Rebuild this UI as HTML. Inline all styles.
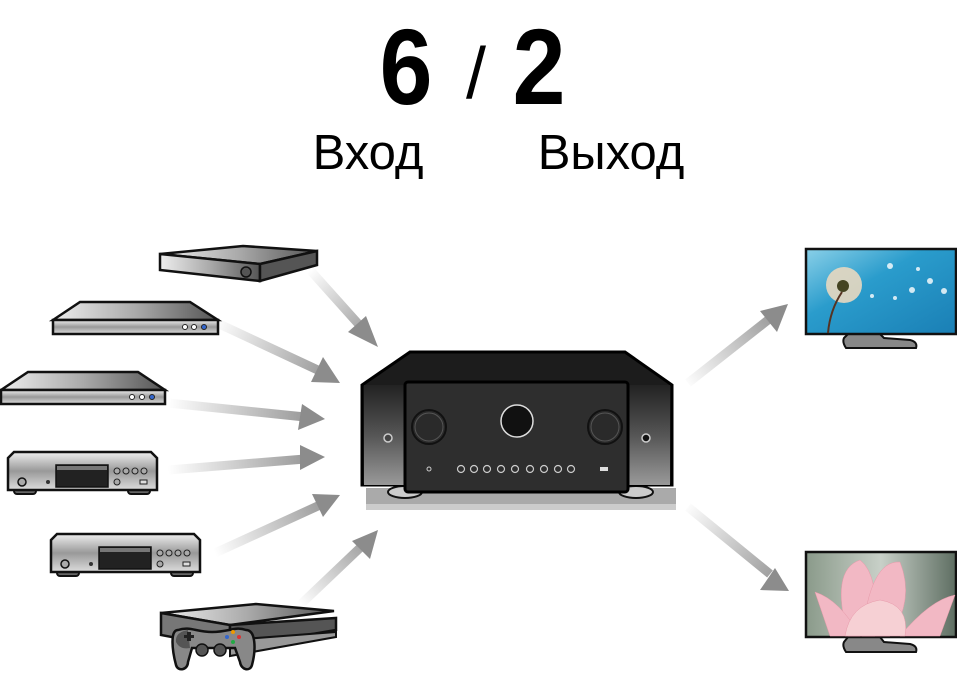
<!DOCTYPE html>
<html><head><meta charset="utf-8"><style>
html,body{margin:0;padding:0;background:#fff;width:957px;height:680px;overflow:hidden}
svg{display:block}
text{font-family:"Liberation Sans",sans-serif}
</style></head><body>
<svg width="957" height="680" viewBox="0 0 957 680" xmlns="http://www.w3.org/2000/svg">
<defs>
<linearGradient id="metal" x1="0" x2="1" y1="0" y2="0"><stop offset="0" stop-color="#eee"/><stop offset="0.5" stop-color="#aaa"/><stop offset="1" stop-color="#555"/></linearGradient>
<linearGradient id="metalv" x1="0" x2="0" y1="0" y2="1"><stop offset="0" stop-color="#eee"/><stop offset="0.5" stop-color="#999"/><stop offset="1" stop-color="#ddd"/></linearGradient>
<linearGradient id="sky" x1="0" x2="1" y1="0" y2="1"><stop offset="0" stop-color="#8ad0e8"/><stop offset="0.4" stop-color="#2a9ccc"/><stop offset="1" stop-color="#1a7fb5"/></linearGradient>
<linearGradient id="lotusbg" x1="0" x2="1"><stop offset="0" stop-color="#8a9a8a"/><stop offset="0.5" stop-color="#c8d0c8"/><stop offset="1" stop-color="#5e6e62"/></linearGradient>
<linearGradient id="side" x1="0" x2="0" y1="0" y2="1"><stop offset="0" stop-color="#222"/><stop offset="0.5" stop-color="#555"/><stop offset="1" stop-color="#999"/></linearGradient>
</defs>

<g transform="translate(406,0) scale(0.88,1)"><text x="0" y="104" font-size="108" font-weight="bold" text-anchor="middle">6</text></g>
<text x="476" y="98" font-size="72" text-anchor="middle">/</text>
<g transform="translate(539,0) scale(0.88,1)"><text x="0" y="104" font-size="108" font-weight="bold" text-anchor="middle">2</text></g>
<text x="368" y="169" font-size="49" text-anchor="middle">Вход</text>
<text x="611" y="169" font-size="49" text-anchor="middle">Выход</text>

<defs>
<linearGradient id="a1" gradientUnits="userSpaceOnUse" x1="310" y1="270" x2="378" y2="345"><stop offset="0" stop-color="#fff"/><stop offset="1" stop-color="#8c8c8c"/></linearGradient>
<linearGradient id="a2" gradientUnits="userSpaceOnUse" x1="215" y1="322" x2="340" y2="380"><stop offset="0" stop-color="#fff"/><stop offset="1" stop-color="#8c8c8c"/></linearGradient>
<linearGradient id="a3" gradientUnits="userSpaceOnUse" x1="168" y1="403" x2="325" y2="418"><stop offset="0" stop-color="#fff"/><stop offset="1" stop-color="#8c8c8c"/></linearGradient>
<linearGradient id="a4" gradientUnits="userSpaceOnUse" x1="168" y1="470" x2="325" y2="457"><stop offset="0" stop-color="#fff"/><stop offset="1" stop-color="#8c8c8c"/></linearGradient>
<linearGradient id="a5" gradientUnits="userSpaceOnUse" x1="215" y1="553" x2="340" y2="495"><stop offset="0" stop-color="#fff"/><stop offset="1" stop-color="#8c8c8c"/></linearGradient>
<linearGradient id="a6" gradientUnits="userSpaceOnUse" x1="300" y1="605" x2="378" y2="530"><stop offset="0" stop-color="#fff"/><stop offset="1" stop-color="#8c8c8c"/></linearGradient>
<linearGradient id="a7" gradientUnits="userSpaceOnUse" x1="685" y1="385" x2="787" y2="305"><stop offset="0" stop-color="#fff"/><stop offset="1" stop-color="#8c8c8c"/></linearGradient>
<linearGradient id="a8" gradientUnits="userSpaceOnUse" x1="685" y1="505" x2="788" y2="590"><stop offset="0" stop-color="#fff"/><stop offset="1" stop-color="#8c8c8c"/></linearGradient>
</defs>
<g stroke-width="9" fill="none">
<line x1="310" y1="270" x2="362" y2="328" stroke="url(#a1)"/>
<line x1="215" y1="322" x2="322" y2="372" stroke="url(#a2)"/>
<line x1="168" y1="403" x2="305" y2="417" stroke="url(#a3)"/>
<line x1="168" y1="470" x2="305" y2="459" stroke="url(#a4)"/>
<line x1="215" y1="553" x2="320" y2="505" stroke="url(#a5)"/>
<line x1="300" y1="605" x2="362" y2="546" stroke="url(#a6)"/>
<line x1="688" y1="383" x2="768" y2="320" stroke="url(#a7)"/>
<line x1="688" y1="507" x2="770" y2="574" stroke="url(#a8)"/>
</g>
<g fill="#8c8c8c">
<polygon points="378,347 348,332 366,316"/>
<polygon points="340,383 311,382 323,357"/>
<polygon points="325,419 298,430 302,404"/>
<polygon points="325,457 300,470 300,445"/>
<polygon points="340,495 323,517 312,494"/>
<polygon points="378,530 370,559 352,541"/>
<polygon points="788,304 777,332 760,311"/>
<polygon points="789,591 760,590 775,568"/>
</g>

<polygon points="160,254 243,246 317,251 260,264" fill="url(#metal)" stroke="#111" stroke-width="2.5"/>
<polygon points="160,254 260,264 260,281 160,270" fill="url(#metal)" stroke="#111" stroke-width="2.5"/>
<polygon points="260,264 317,251 317,265 260,281" fill="#555" stroke="#111" stroke-width="2.5"/>
<circle cx="246" cy="272" r="5" fill="#555" stroke="#111" stroke-width="1.5"/>

<polygon points="53,320 80,302 190,302 218,320" fill="url(#metal)" stroke="#111" stroke-width="2.5"/>
<rect x="53" y="320" width="165" height="14" fill="url(#metalv)" stroke="#111" stroke-width="2.5"/>
<circle cx="185" cy="327" r="2.5" fill="#fff" stroke="#222"/><circle cx="194" cy="327" r="2.5" fill="#fff" stroke="#222"/><circle cx="204" cy="327" r="2.5" fill="#36c" stroke="#222"/>

<polygon points="1,390 28,372 138,372 165,390" fill="url(#metal)" stroke="#111" stroke-width="2.5"/>
<rect x="1" y="390" width="164" height="14" fill="url(#metalv)" stroke="#111" stroke-width="2.5"/>
<circle cx="132" cy="397" r="2.5" fill="#fff" stroke="#222"/><circle cx="142" cy="397" r="2.5" fill="#fff" stroke="#222"/><circle cx="152" cy="397" r="2.5" fill="#36c" stroke="#222"/>

<g transform="translate(8,452)">
<rect x="6" y="34" width="22" height="8" rx="3" fill="#666" stroke="#111" stroke-width="2"/>
<rect x="120" y="34" width="22" height="8" rx="3" fill="#666" stroke="#111" stroke-width="2"/>
<polygon points="0,6 6,0 143,0 149,6 149,38 0,38" fill="url(#metalv)" stroke="#111" stroke-width="2.5"/>
<rect x="48" y="13" width="52" height="22" fill="#222" stroke="#111" stroke-width="1.5"/>
<rect x="49" y="14" width="50" height="4" fill="#777"/>
<circle cx="14" cy="30" r="4" fill="#aaa" stroke="#111" stroke-width="1.5"/><circle cx="40" cy="30" r="2" fill="#333"/>
<circle cx="109" cy="19" r="3" fill="#aaa" stroke="#222"/><circle cx="118" cy="19" r="3" fill="#aaa" stroke="#222"/><circle cx="127" cy="19" r="3" fill="#aaa" stroke="#222"/><circle cx="136" cy="19" r="3" fill="#aaa" stroke="#222"/>
<circle cx="109" cy="30" r="3" fill="#aaa" stroke="#222"/><rect x="132" y="28" width="7" height="4" fill="#ddd" stroke="#222"/>
</g>
<g transform="translate(51,534)">
<rect x="6" y="34" width="22" height="8" rx="3" fill="#666" stroke="#111" stroke-width="2"/>
<rect x="120" y="34" width="22" height="8" rx="3" fill="#666" stroke="#111" stroke-width="2"/>
<polygon points="0,6 6,0 143,0 149,6 149,38 0,38" fill="url(#metalv)" stroke="#111" stroke-width="2.5"/>
<rect x="48" y="13" width="52" height="22" fill="#222" stroke="#111" stroke-width="1.5"/>
<rect x="49" y="14" width="50" height="4" fill="#777"/>
<circle cx="14" cy="30" r="4" fill="#aaa" stroke="#111" stroke-width="1.5"/><circle cx="40" cy="30" r="2" fill="#333"/>
<circle cx="109" cy="19" r="3" fill="#aaa" stroke="#222"/><circle cx="118" cy="19" r="3" fill="#aaa" stroke="#222"/><circle cx="127" cy="19" r="3" fill="#aaa" stroke="#222"/><circle cx="136" cy="19" r="3" fill="#aaa" stroke="#222"/>
<circle cx="109" cy="30" r="3" fill="#aaa" stroke="#222"/><rect x="132" y="28" width="7" height="4" fill="#ddd" stroke="#222"/>
</g>

<polygon points="161,613 256,604 334,611 230,625" fill="url(#metal)" stroke="#111" stroke-width="2.5"/>
<polygon points="161,613 230,625 230,648 161,635" fill="#777" stroke="#111" stroke-width="2.5"/>
<polygon points="230,625 336,618 336,630 230,648" fill="#555" stroke="#111" stroke-width="2.5"/>
<polygon points="230,640 336,632 336,637 230,656" fill="#999" stroke="#111" stroke-width="2"/>
<path d="M178,630 C170,630 172,650 176,665 C178,672 188,670 188,662 L192,648 L235,648 L240,662 C241,670 250,672 252,665 C256,650 256,630 246,630 C235,626 230,632 212,632 C196,632 190,626 178,630Z" fill="#888" stroke="#111" stroke-width="2.5"/>
<path d="M188,630 Q175,632 176,642 Q180,650 190,648 Z" fill="#555"/>
<rect x="184" y="635" width="10" height="3" fill="#222"/><rect x="187" y="632" width="4" height="9" fill="#222"/>
<circle cx="202" cy="650" r="6" fill="#555" stroke="#111" stroke-width="1.5"/><circle cx="220" cy="650" r="6" fill="#555" stroke="#111" stroke-width="1.5"/>
<circle cx="233" cy="632" r="2" fill="#e90"/><circle cx="227" cy="637" r="2" fill="#36c"/><circle cx="239" cy="637" r="2" fill="#d33"/><circle cx="233" cy="642" r="2" fill="#2a4"/>

<rect x="366" y="488" width="310" height="22" fill="#aaa"/>
<rect x="366" y="504" width="310" height="6" fill="#ccc"/>
<ellipse cx="405" cy="492" rx="17" ry="6" fill="#ccc" stroke="#111" stroke-width="2"/>
<ellipse cx="636" cy="492" rx="17" ry="6" fill="#ccc" stroke="#111" stroke-width="2"/>
<polygon points="410,352 625,352 672,385 672,485 362,485 362,385" fill="#1c1c1c" stroke="#000" stroke-width="3"/>
<polygon points="364,385 405,385 405,485 364,485" fill="url(#side)"/>
<polygon points="628,385 670,385 670,485 628,485" fill="url(#side)"/>
<rect x="405" y="382" width="223" height="110" rx="3" fill="#2e2e2e" stroke="#000" stroke-width="3"/>
<circle cx="429" cy="427" r="17" fill="#2a2a2a" stroke="#111" stroke-width="2"/><circle cx="429" cy="427" r="14" fill="none" stroke="#555"/>
<circle cx="605" cy="427" r="17" fill="#2a2a2a" stroke="#111" stroke-width="2"/><circle cx="605" cy="427" r="14" fill="none" stroke="#555"/>
<circle cx="517" cy="421" r="16" fill="#111" stroke="#ddd" stroke-width="1.5"/>
<circle cx="388" cy="438" r="4" fill="#444" stroke="#ccc" stroke-width="1.5"/>
<circle cx="646" cy="438" r="4" fill="#111" stroke="#ccc" stroke-width="1.5"/>
<circle cx="429" cy="469" r="2" fill="none" stroke="#ccc"/>
<g fill="none" stroke="#ccc" stroke-width="1.2">
<circle cx="461" cy="469" r="3.5"/><circle cx="474" cy="469" r="3.5"/><circle cx="487" cy="469" r="3.5"/><circle cx="501" cy="469" r="3.5"/><circle cx="515" cy="469" r="3.5"/><circle cx="530" cy="469" r="3.5"/><circle cx="544" cy="469" r="3.5"/><circle cx="558" cy="469" r="3.5"/><circle cx="571" cy="469" r="3.5"/>
</g>
<rect x="600" y="467" width="8" height="4" fill="#ddd"/>

<path d="M844,338 L848,334 L880,334 L884,338 L910,340 Q918,342 916,348 L846,348 Q842,342 844,338Z" fill="#888" stroke="#111" stroke-width="2"/>
<rect x="806" y="249" width="150" height="85" fill="url(#sky)" stroke="#111" stroke-width="2.5"/>
<circle cx="844" cy="285" r="18" fill="#e8d8c0" opacity="0.9"/>
<circle cx="843" cy="286" r="6" fill="#442"/>
<path d="M842,292 Q830,310 828,333" stroke="#532" stroke-width="2" fill="none"/>
<g fill="#fff" opacity="0.8"><circle cx="890" cy="266" r="3"/><circle cx="912" cy="290" r="3"/><circle cx="930" cy="281" r="3"/><circle cx="944" cy="291" r="3"/><circle cx="872" cy="296" r="2"/><circle cx="895" cy="298" r="2"/><circle cx="918" cy="269" r="2"/></g>

<path d="M844,642 L848,637 L880,637 L884,642 L910,644 Q918,646 916,652 L846,652 Q842,646 844,642Z" fill="#888" stroke="#111" stroke-width="2"/>
<rect x="806" y="552" width="150" height="85" fill="url(#lotusbg)" stroke="#111" stroke-width="2.5"/>
<g fill="#f2b8c4" stroke="#e89aaa" stroke-width="0.5">
<path d="M848,636 Q830,570 860,560 Q880,575 875,636Z"/>
<path d="M862,636 Q870,560 900,562 Q915,600 890,636Z"/>
<path d="M815,592 Q840,600 860,636 L830,636Z"/>
<path d="M955,595 Q930,600 900,636 L940,636Z"/>
<path d="M845,636 Q850,605 880,600 Q910,605 905,636Z" fill="#f6d0d4"/>
</g>
</svg>
</body></html>
